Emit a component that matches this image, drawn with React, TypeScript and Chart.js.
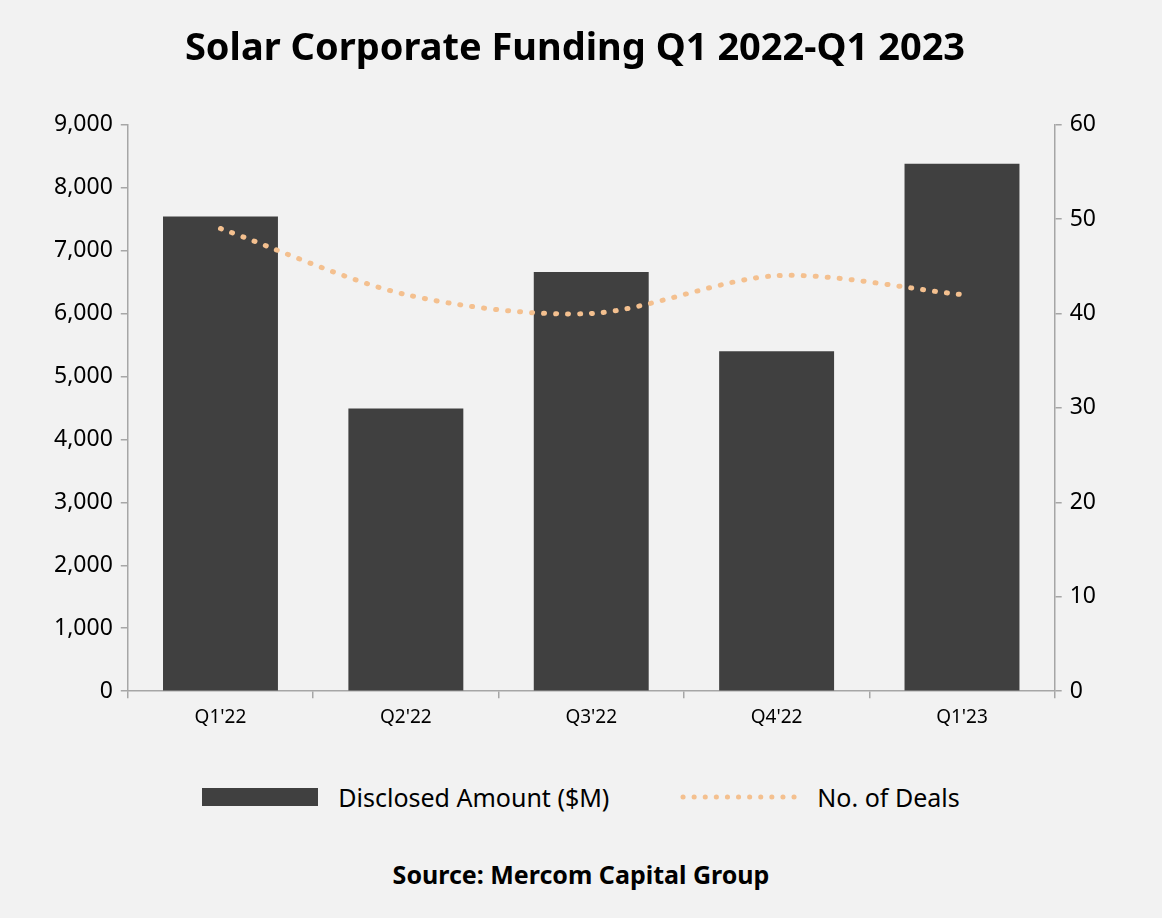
import React, { useEffect, useRef } from "react";
import { Chart, registerables } from "chart.js";
Chart.register(...registerables);

const categories = ["Q1'22", "Q2'22", "Q3'22", "Q4'22", "Q1'23"];
const amounts = [7540, 4490, 6660, 5400, 8380];
const deals = [49, 42, 40, 44, 42];
const FONT = "'Noto Sans', sans-serif";

export default function App() {
  const ref = useRef<HTMLCanvasElement>(null);
  useEffect(() => {
    document.body.style.margin = "0";
    const axisGrid = { display: true, drawOnChartArea: false, color: "#a6a6a6", tickLength: 7, lineWidth: 1.5 };
    const c = new Chart(ref.current!, {
      type: "bar",
      data: {
        labels: categories,
        datasets: [
          { type: "line", label: "No. of Deals", data: deals, yAxisID: "y1", borderColor: "#f4c08f", borderWidth: 5, borderDash: [1, 11], borderCapStyle: "round", pointRadius: 0, tension: 0.3, order: 0 } as any,
          { type: "bar", label: "Disclosed Amount ($M)", data: amounts, yAxisID: "y", backgroundColor: "#404040", categoryPercentage: 1, barPercentage: 0.62, order: 1 },
        ],
      },
      options: {
        animation: false,
        responsive: false,
        layout: { padding: { left: 46, right: 58, top: 0, bottom: 0 } },
        plugins: {
          legend: { display: false },
          tooltip: { enabled: false },
          title: { display: true, text: "Solar Corporate Funding Q1 2022-Q1 2023", color: "#000", font: { family: FONT, size: 38, weight: "bold" }, padding: { top: 26, bottom: 53 } },
        },
        scales: {
          x: { grid: { ...axisGrid, offset: true }, border: { color: "#a6a6a6", width: 1.5 }, ticks: { color: "#000", font: { family: FONT, size: 19 }, padding: 8 } },
          y: { position: "left", min: 0, max: 9000, grid: axisGrid, border: { color: "#a6a6a6", width: 1.5 },
            ticks: { stepSize: 1000, color: "#000", font: { family: FONT, size: 23 }, padding: 8, callback: (v: any) => Number(v).toLocaleString("en-US") } },
          y1: { position: "right", min: 0, max: 60, grid: axisGrid, border: { color: "#a6a6a6", width: 1.5 },
            ticks: { stepSize: 10, color: "#000", font: { family: FONT, size: 23 }, padding: 8 } },
        },
      } as any,
    });
    return () => c.destroy();
  }, []);
  return (
    <div style={{ width: 1162, height: 918, background: "#f2f2f2", fontFamily: FONT, position: "relative" }}>
      <canvas ref={ref} width={1162} height={737} style={{ display: "block" }} />
      <div style={{ position: "absolute", top: 780, left: 0, width: 1162, display: "flex", justifyContent: "center", alignItems: "center", fontSize: 25, color: "#000" }}>
        <span style={{ display: "inline-block", width: 116, height: 18, background: "#404040", marginRight: 20 }} />
        <span>Disclosed Amount ($M)</span>
        <svg width={120} height={20} style={{ marginLeft: 70, marginRight: 18 }}>
          <line x1={4} y1={10} x2={116} y2={10} stroke="#f4c08f" strokeWidth={5} strokeDasharray="0.1 11" strokeLinecap="round" />
        </svg>
        <span>No. of Deals</span>
      </div>
      <div style={{ position: "absolute", top: 857, left: 0, width: 1162, textAlign: "center", fontSize: 25, fontWeight: "bold", color: "#000" }}>Source: Mercom Capital Group</div>
    </div>
  );
}
